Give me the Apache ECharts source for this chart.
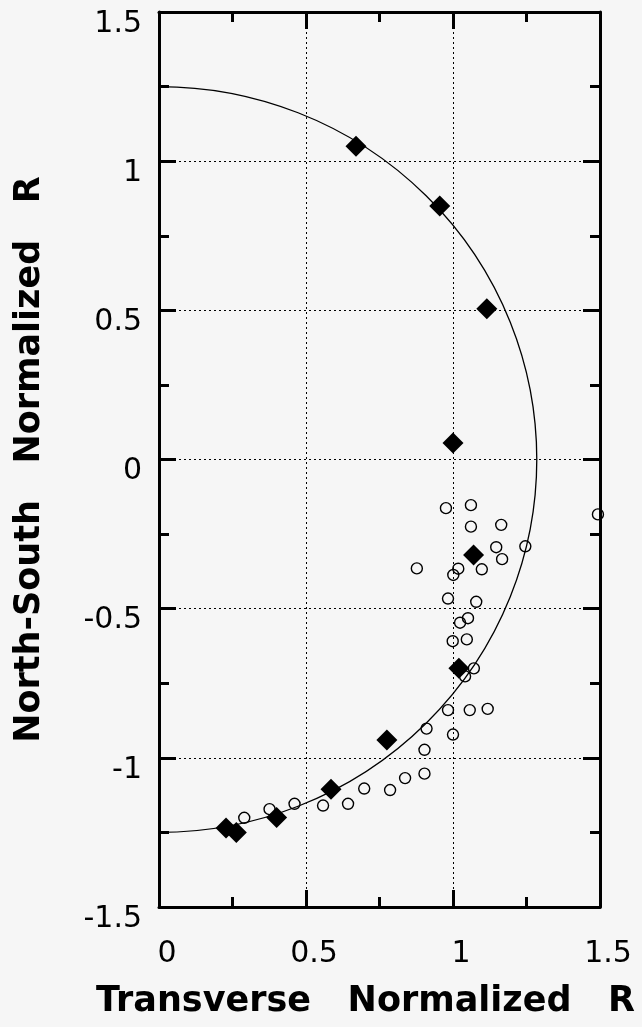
<!DOCTYPE html>
<html>
<head>
<meta charset="utf-8">
<style>
  html, body { margin: 0; padding: 0; background: #f6f6f6; }
  #chart { width: 642px; height: 1027px; }
</style>
<script src="https://cdn.jsdelivr.net/npm/echarts@6/dist/echarts.min.js"></script>
</head>
<body>
<div id="chart"></div>
<script>
// ---- data ----
const diamondX = [0.67, 0.955, 1.115, 1.0, 1.07, 1.02, 0.775, 0.585, 0.40, 0.228, 0.263];
const diamondY = [1.05, 0.85, 0.505, 0.055, -0.32, -0.70, -0.94, -1.105, -1.20, -1.235, -1.25];

const circleX = [0.976, 1.061, 1.061, 1.164, 1.246, 1.147, 1.167, 1.493, 0.877, 1.018, 1.098, 1.001,
                 0.983, 1.079, 1.051, 1.024, 0.999, 1.047, 1.071, 1.041, 0.983, 1.057, 1.118, 0.91,
                 1.0, 0.903, 0.903, 0.837, 0.786, 0.698, 0.643, 0.558, 0.461, 0.376, 0.29];
const circleY = [-0.163, -0.153, -0.225, -0.219, -0.291, -0.294, -0.334, -0.184, -0.365, -0.366, -0.368, -0.387,
                 -0.466, -0.477, -0.532, -0.547, -0.609, -0.603, -0.70, -0.727, -0.84, -0.84, -0.836, -0.902,
                 -0.922, -0.973, -1.053, -1.068, -1.108, -1.103, -1.154, -1.160, -1.154, -1.172, -1.201];

// fitted half-circle (centre and radii in data units)
const fitCenter = [0, 0];
const fitRadiusX = 1.285;
const fitRadiusY = 1.25;

const xTicks = [0, 0.5, 1, 1.5];
const yTicks = [-1.5, -1, -0.5, 0, 0.5, 1, 1.5];
const xTitle = 'Transverse   Normalized   R';
const yTitle = 'North-South   Normalized   R';

// ---- chart ----
const chart = echarts.init(document.getElementById('chart'), null, { renderer: 'canvas' });

const frameLine = { show: true, onZero: false, lineStyle: { color: '#000', width: 3 } };
const majorTick = { show: true, inside: true, length: 17, lineStyle: { color: '#000', width: 3 } };
const minorTick = { show: true, splitNumber: 2, length: 10, lineStyle: { color: '#000', width: 3 } };
const grid = { type: [2, 3], color: '#000', width: 1 };

const xMin = xTicks[0], xMax = xTicks[xTicks.length - 1];
const yMin = yTicks[0], yMax = yTicks[yTicks.length - 1];

chart.setOption({
  backgroundColor: '#f6f6f6',
  animation: false,
  grid: { left: 159, right: 42, top: 12, bottom: 120, containLabel: false },
  xAxis: [
    {
      type: 'value', position: 'bottom', min: xMin, max: xMax, interval: 0.5,
      axisLine: frameLine, axisTick: majorTick, minorTick: minorTick,
      splitLine: { show: true, lineStyle: grid },
      axisLabel: {
        show: true, margin: 32, fontFamily: 'DejaVu Sans', fontSize: 30, color: '#000',
        padding: [0, 0, 0, 16],
        formatter: v => String(v)
      },
      name: xTitle, nameLocation: 'middle', nameGap: 77,
      nameTextStyle: {
        fontFamily: 'DejaVu Sans', fontWeight: 'bold', fontSize: 35, color: '#000',
        padding: [0, 28, 0, 0]
      }
    },
    {
      type: 'value', position: 'top', min: xMin, max: xMax, interval: 0.5,
      axisLine: frameLine, axisTick: majorTick, minorTick: minorTick,
      splitLine: { show: false }, axisLabel: { show: false }
    }
  ],
  yAxis: [
    {
      type: 'value', position: 'left', min: yMin, max: yMax, interval: 0.5,
      axisLine: frameLine, axisTick: majorTick, minorTick: minorTick,
      splitLine: { show: true, lineStyle: grid },
      axisLabel: {
        show: true, margin: 17, fontFamily: 'DejaVu Sans', fontSize: 30, color: '#000',
        verticalAlign: 'top', lineHeight: 24,
        formatter: v => String(v)
      },
      name: yTitle, nameLocation: 'middle', nameGap: 112, nameRotate: 90,
      nameTextStyle: {
        fontFamily: 'DejaVu Sans', fontWeight: 'bold', fontSize: 35, color: '#000'
      }
    },
    {
      type: 'value', position: 'right', min: yMin, max: yMax, interval: 0.5,
      axisLine: frameLine, axisTick: majorTick, minorTick: minorTick,
      splitLine: { show: false }, axisLabel: { show: false }
    }
  ],
  series: [
    {
      name: 'fit',
      type: 'custom',
      xAxisIndex: 0, yAxisIndex: 0,
      data: [fitCenter],
      z: 3,
      renderItem: function (params, api) {
        const c = api.coord([api.value(0), api.value(1)]);
        const rx = api.size([fitRadiusX, 0])[0];
        const ry = api.size([0, fitRadiusY])[1];
        const cx = c[0], cy = c[1];
        const d = 'M ' + cx + ' ' + (cy - ry) +
                  ' A ' + rx + ' ' + ry + ' 0 0 1 ' + (cx + rx) + ' ' + cy +
                  ' A ' + rx + ' ' + ry + ' 0 0 1 ' + cx + ' ' + (cy + ry);
        return {
          type: 'path',
          shape: { pathData: d },
          style: { fill: 'none', stroke: '#000', lineWidth: 1.3 }
        };
      }
    },
    {
      name: 'open',
      type: 'scatter',
      xAxisIndex: 0, yAxisIndex: 0,
      symbol: 'circle', symbolSize: 11,
      z: 4,
      itemStyle: { color: 'rgba(0,0,0,0)', borderColor: '#000', borderWidth: 1.4, opacity: 1 },
      data: circleX.map((x, i) => [x, circleY[i]])
    },
    {
      name: 'filled',
      type: 'scatter',
      xAxisIndex: 0, yAxisIndex: 0,
      symbol: 'diamond', symbolSize: 21,
      z: 5,
      itemStyle: { color: '#000', opacity: 1 },
      data: diamondX.map((x, i) => [x, diamondY[i]])
    }
  ]
});
</script>
</body>
</html>
